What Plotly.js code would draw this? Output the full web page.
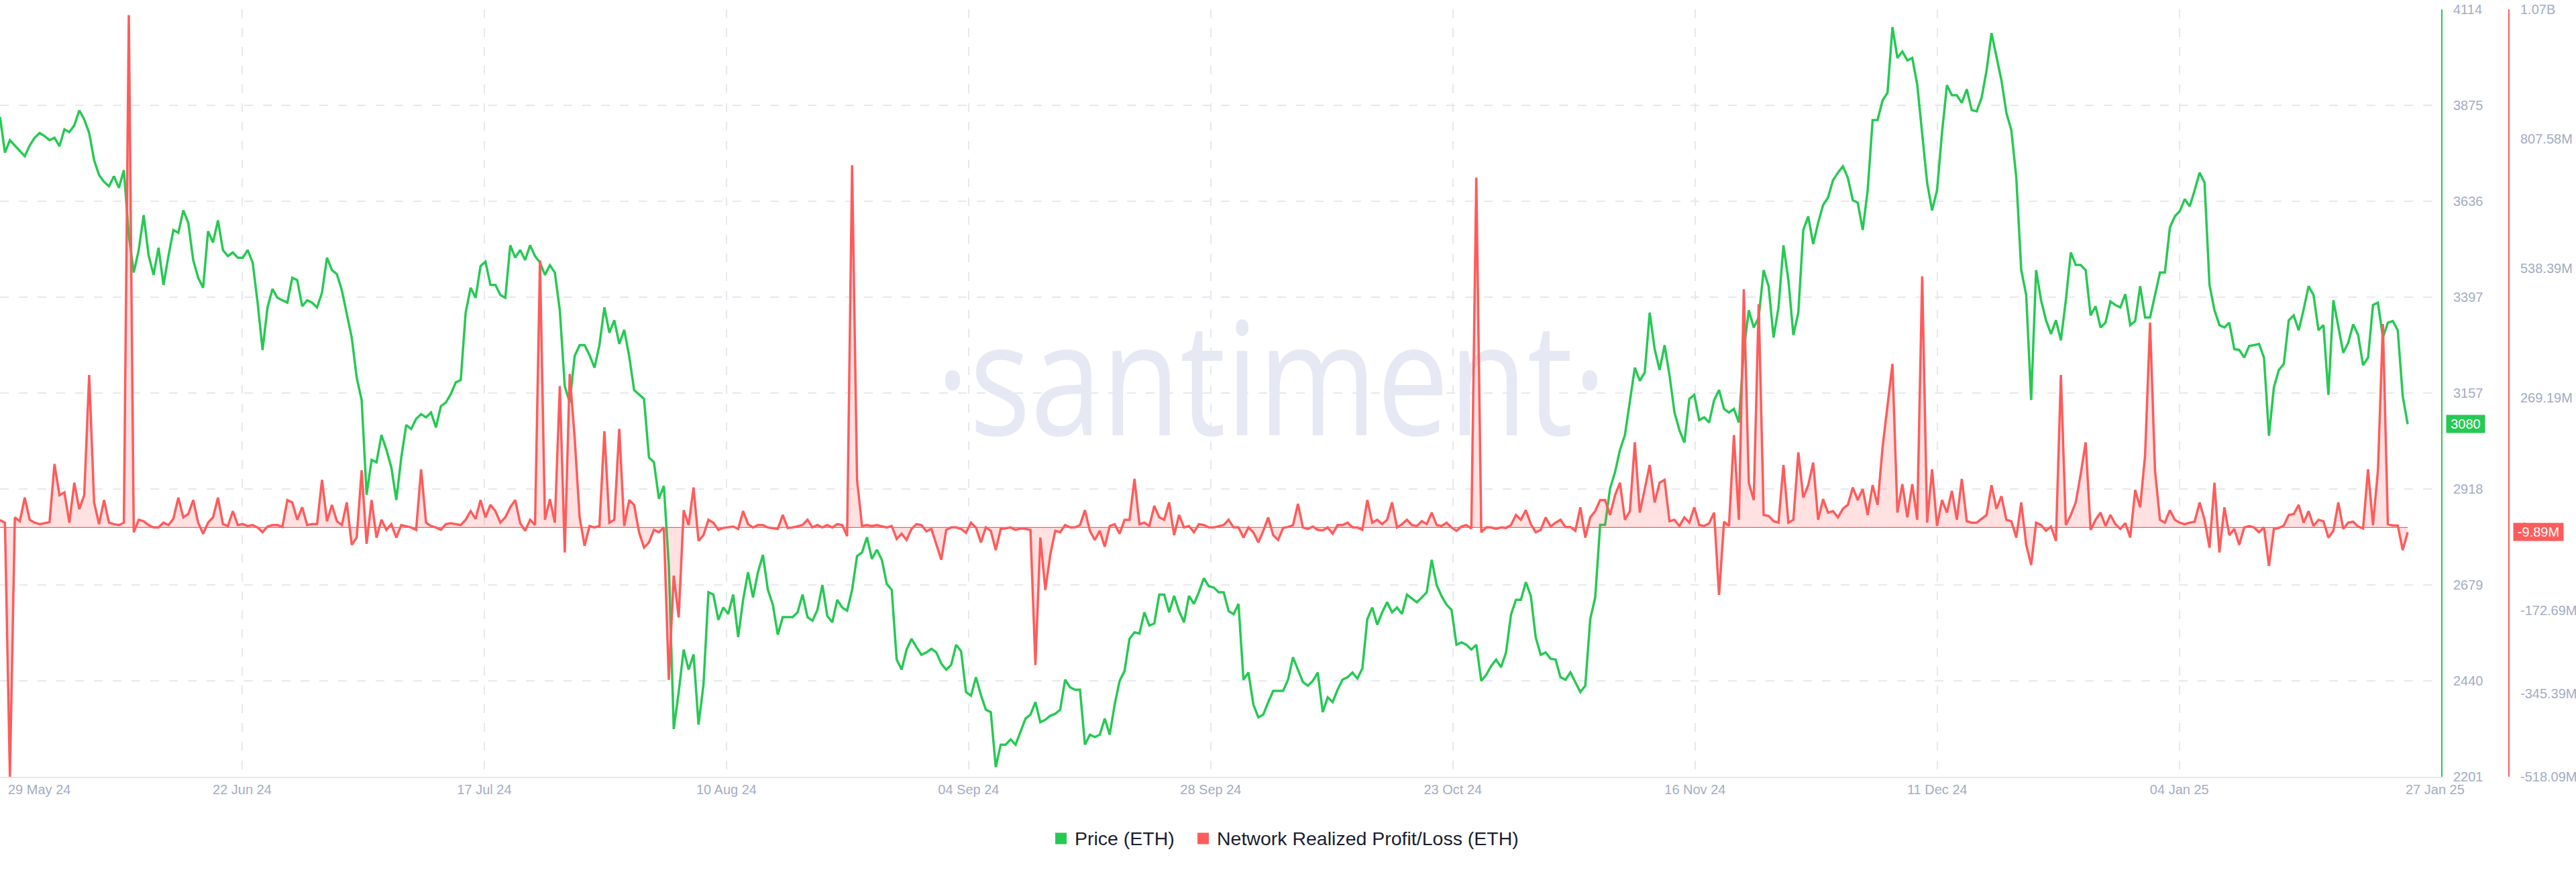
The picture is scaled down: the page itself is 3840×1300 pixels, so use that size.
<!DOCTYPE html>
<html><head><meta charset="utf-8">
<script src="https://cdn.plot.ly/plotly-3.0.1.min.js"></script>
<style>html,body{margin:0;padding:0;background:#fff;}#chart{width:3840px;height:1300px;}</style>
</head><body><div id="chart"></div>
<script>
// ---------------- data ----------------
const START = '2024-05-29T12:00:00Z';   // first sample
const STEP_HOURS = 12;                   // sampling step of both series

const PRICE = [
3846,3757,3788,3775,3763,3748,3775,3794,3806,3798,
3788,3794,3773,3815,3808,3825,3862,3840,3806,3738,
3701,3684,3673,3698,3669,3713,3551,3458,3514,3601,
3501,3452,3520,3427,3499,3564,3557,3613,3582,3489,
3445,3420,3561,3533,3588,3514,3499,3508,3495,3495,
3514,3483,3383,3265,3371,3417,3395,3389,3383,3445,
3439,3374,3389,3383,3371,3408,3495,3464,3454,3414,
3358,3296,3196,3140,2904,2991,2985,3053,3016,2972,
2891,2997,3078,3068,3093,3105,3097,3109,3072,3125,
3134,3155,3184,3190,3358,3420,3395,3474,3485,3427,
3427,3402,3395,3526,3495,3514,3489,3526,3499,3483,
3452,3476,3458,3364,3175,3134,3250,3277,3277,3252,
3221,3277,3371,3308,3339,3280,3315,3250,3165,3153,
3143,2997,2985,2894,2926,2729,2320,2412,2518,2468,
2506,2331,2430,2661,2655,2592,2623,2607,2655,2549,
2642,2711,2648,2711,2754,2667,2630,2555,2599,2599,
2599,2611,2655,2599,2590,2617,2679,2602,2586,2642,
2623,2615,2667,2751,2760,2798,2744,2767,2742,2682,
2667,2493,2468,2518,2545,2524,2505,2511,2520,2511,
2483,2468,2480,2530,2514,2412,2403,2449,2405,2368,
2362,2225,2281,2281,2294,2281,2313,2346,2356,2387,
2337,2343,2353,2358,2368,2443,2424,2418,2418,2281,
2306,2300,2306,2346,2306,2381,2440,2465,2545,2561,
2558,2611,2578,2583,2655,2655,2611,2652,2614,2586,
2652,2632,2661,2696,2676,2673,2661,2661,2614,2606,
2632,2443,2461,2381,2349,2356,2387,2415,2415,2415,
2443,2499,2468,2437,2428,2440,2461,2362,2399,2387,
2418,2443,2449,2461,2446,2471,2594,2623,2580,2611,
2636,2611,2623,2607,2655,2645,2636,2648,2661,2742,
2679,2651,2630,2617,2530,2536,2530,2518,2530,2440,
2455,2477,2493,2474,2511,2605,2642,2642,2686,2652,
2548,2505,2511,2495,2493,2449,2443,2461,2437,2412,
2428,2594,2648,2829,2829,2920,2960,3016,3053,3138,
3221,3188,3209,3358,3267,3215,3277,3202,3109,3065,
3034,3143,3153,3090,3097,3084,3140,3165,3118,3109,
3118,3084,3265,3364,3321,3346,3464,3424,3296,3371,
3526,3439,3302,3358,3564,3598,3529,3582,3626,3645,
3688,3707,3723,3694,3638,3632,3564,3663,3838,3838,
3887,3906,4070,3993,4009,3987,3993,3927,3800,3682,
3613,3663,3806,3925,3900,3900,3881,3915,3863,3860,
3894,3962,4055,3999,3937,3856,3813,3694,3464,3402,
3140,3464,3389,3339,3305,3339,3289,3389,3508,3477,
3477,3464,3351,3374,3321,3333,3386,3377,3371,3404,
3327,3337,3424,3346,3346,3402,3458,3458,3570,3598,
3611,3641,3623,3663,3707,3682,3427,3364,3327,3321,
3333,3267,3265,3246,3275,3277,3280,3246,3051,3172,
3215,3230,3339,3351,3314,3366,3424,3402,3314,3327,
3153,3389,3321,3258,3283,3329,3302,3227,3246,3377,
3383,3296,3333,3337,3314,3150,3080
];

// Network Realized Profit/Loss, in millions
const PNL_M = [
15.6,10,-518,21,13,62,16,10,7,9,
11,132,67,73,10,93,38,67,317,52,
7,57,10,7,5,10,1065,-10,16,13,
5,0,0,10,5,18,62,21,28,57,
10,-13,10,21,62,7,3,34,5,7,
3,5,0,-10,2,5,5,1,57,52,
16,42,5,7,7,99,13,47,13,5,
52,-36,-21,119,-34,57,-21,16,-5,7,
-21,5,3,0,-5,121,10,3,0,-5,
7,9,7,5,16,34,18,57,21,47,
34,10,21,42,57,9,-7,16,5,555,
16,59,10,294,-52,319,187,21,-38,3,
0,3,200,10,16,205,3,57,47,-10,
-42,-31,-5,-10,0,-317,-100,-187,36,5,
83,-28,-16,16,10,-5,-1,0,2,-3,
34,7,0,5,5,0,-1,-3,26,-1,
0,3,5,16,0,5,0,5,0,7,
5,-18,753,99,3,5,3,5,3,0,
3,-24,-13,-26,-3,7,5,-8,-3,-36,
-67,-5,0,0,-3,-11,10,0,-31,0,
-7,-47,-3,-2,0,-5,-2,-3,-5,-286,
-21,-130,-57,-7,-10,5,0,0,5,36,
-7,-26,-7,-40,3,7,-13,16,16,101,
7,10,3,45,21,16,52,-16,26,0,
3,-10,7,5,0,0,2,5,16,0,
0,-21,0,-10,-31,-7,21,-16,-26,-1,
1,5,49,0,-3,2,-5,-6,0,-13,
5,5,10,0,0,-5,57,10,16,7,
16,52,0,7,16,5,3,13,7,31,
5,3,10,0,-7,2,5,-2,727,-10,
0,0,-3,0,-1,5,26,16,36,7,
-10,-5,21,2,10,16,1,1,-7,42,
-21,21,34,57,57,26,67,93,16,34,
177,31,80,130,52,93,99,13,16,3,
21,10,42,5,3,9,31,-140,12,3,
192,16,495,93,57,464,26,24,13,10,
130,10,16,156,62,88,135,16,59,31,
34,21,39,47,83,57,80,26,88,47,
166,249,340,31,90,21,90,16,522,10,
121,3,57,31,76,16,101,13,10,10,
18,26,88,39,65,16,13,-21,52,-36,
-78,10,5,-7,2,-28,317,5,26,52,
111,177,-5,16,31,3,26,7,-3,9,
-21,78,42,151,426,119,16,10,36,16,
10,7,10,12,52,16,-42,93,-52,42,
-16,-3,-36,0,3,0,-10,0,-80,-3,
-1,4,26,28,47,10,34,3,16,13,
-21,-7,52,-3,10,12,2,-2,121,5,
119,423,7,4,4,-47,-9.89
];

const X_TICK_LABELS = ['29 May 24','22 Jun 24','17 Jul 24','10 Aug 24','04 Sep 24',
                       '28 Sep 24','23 Oct 24','16 Nov 24','11 Dec 24','04 Jan 25'];
const X_END_LABEL = '27 Jan 25';
const PRICE_TICKS = [2201,2440,2679,2918,3157,3397,3636,3875,4114];
const PNL_TICKS = [-518.09,-345.39,-172.69,0,269.19,538.39,807.58,1076.77];
const PNL_TICK_TEXT = ['-518.09M','-345.39M','-172.69M','0','269.19M','538.39M','807.58M','1.07B'];
const SERIES_NAMES = ['Price (ETH)','Network Realized Profit/Loss (ETH)'];
const WATERMARK = '\u00B7santiment\u00B7';

// ---------------- helpers ----------------
const DAY = 86400000;
const t0 = Date.parse(START);
const fmt = ms => new Date(ms).toISOString().slice(0,19).replace('T',' ');
const DATES = PRICE.map((_, k) => fmt(t0 + k*STEP_HOURS*3600000));

const GREEN = '#26c953', RED = '#ff5b5b', GRID = '#e6e8f1', TICK = '#a3acc4';
const FONT = 'Liberation Sans, Arial, sans-serif';
const W = 3840, H = 1300, MR = 100, MT = 14, MB = 142;
const PLOT_W = W - MR;                 // 3740
const PLOT_H = H - MT - MB;            // 1144
const X_DOM_END = 3639 / PLOT_W;
const RANGE_DAYS = 246.38;
const TICK_STEP_DAYS = 24.44;
const px2x = px => px / PLOT_W;
const px2y = py => (H - MB - py) / PLOT_H;

const tickVals = X_TICK_LABELS.map((_, i) => fmt(t0 + i*TICK_STEP_DAYS*DAY));
const tickText = X_TICK_LABELS.map((s, i) => i === 0 ? '' : s);

const lastP = PRICE[PRICE.length-1], lastN = PNL_M[PNL_M.length-1];

const data = [
  {x: DATES, y: PRICE, type: 'scatter', mode: 'lines', yaxis: 'y',
   line: {color: GREEN, width: 3.5}, showlegend: false, hoverinfo: 'skip'},
  {x: [DATES[0], DATES[DATES.length-1]], y: [0, 0], type: 'scatter', mode: 'lines', yaxis: 'y2',
   line: {color: RED, width: 1.2}, showlegend: false, hoverinfo: 'skip'},
  {x: DATES, y: PNL_M, type: 'scatter', mode: 'lines', yaxis: 'y2', fill: 'tozeroy',
   fillcolor: 'rgba(255,91,91,0.18)', line: {color: RED, width: 3.5}, showlegend: false, hoverinfo: 'skip'}
];

const tickFont = {family: FONT, size: 20, color: TICK};
const legendFont = {family: FONT, size: 28.5, color: '#1a1e30'};

// legend: colour squares + names (pixel boxes in page coordinates)
const LEG = [{sq: [1573, 1590], tx: 1601, color: GREEN},
             {sq: [1785, 1802], tx: 1813, color: RED}];
const LEG_Y = 1250, LEG_HALF = 8.5;

const layout = {
  width: W, height: H,
  margin: {l: 0, r: MR, t: MT, b: MB, pad: 0},
  paper_bgcolor: '#ffffff', plot_bgcolor: '#ffffff',
  hovermode: false,
  showlegend: false,
  xaxis: {type: 'date', domain: [0, X_DOM_END],
          range: [fmt(t0), fmt(t0 + RANGE_DAYS*DAY)],
          tickmode: 'array', tickvals: tickVals, ticktext: tickText,
          showgrid: true, gridcolor: GRID, gridwidth: 2, griddash: '13px,15px',
          showline: true, linecolor: '#e3e7ef', linewidth: 2, ticks: '',
          tickfont: tickFont, zeroline: false, fixedrange: true},
  yaxis: {range: [2201, 4114], side: 'right', anchor: 'x',
          tickmode: 'array', tickvals: PRICE_TICKS, ticktext: PRICE_TICKS.map(String),
          showgrid: true, gridcolor: GRID, gridwidth: 2, griddash: '13px,15px',
          showline: true, linecolor: GREEN, linewidth: 2, ticks: '',
          tickfont: tickFont, zeroline: false, ticklabelstandoff: 12, fixedrange: true},
  yaxis2: {range: [-518.09, 1076.77], overlaying: 'y', side: 'right', anchor: 'free', position: 1,
           tickmode: 'array', tickvals: PNL_TICKS, ticktext: PNL_TICK_TEXT,
           showgrid: false, showline: true, linecolor: RED, linewidth: 2, ticks: '',
           tickfont: tickFont, zeroline: false, ticklabelstandoff: 12, fixedrange: true},
  shapes: [
    {type: 'rect', xref: 'paper', yref: 'paper', x0: 0, x1: X_DOM_END, y0: 0, y1: 1,
     line: {width: 0}, fillcolor: 'rgba(0,0,0,0)', layer: 'below',
     label: {text: WATERMARK, textposition: 'middle center',
             font: {family: 'Open Sans', size: 235, color: '#e6e9f3'}}}
  ].concat(LEG.map(l => ({
     type: 'rect', xref: 'paper', yref: 'paper',
     x0: px2x(l.sq[0]), x1: px2x(l.sq[1]),
     y0: px2y(LEG_Y + LEG_HALF), y1: px2y(LEG_Y - LEG_HALF),
     line: {width: 0}, fillcolor: l.color, layer: 'above'}))),
  annotations: [
    {xref: 'paper', yref: 'paper', x: px2x(10), y: 0, xanchor: 'left', yanchor: 'top', yshift: -6,
     text: X_TICK_LABELS[0], showarrow: false, font: tickFont},
    {xref: 'paper', yref: 'paper', x: px2x(3630), y: 0, xanchor: 'center', yanchor: 'top', yshift: -6,
     text: X_END_LABEL, showarrow: false, font: tickFont},
    {xref: 'paper', yref: 'y', x: px2x(3646), y: lastP, xanchor: 'left', yanchor: 'middle',
     text: String(Math.round(lastP)), showarrow: false, bgcolor: GREEN, width: 57, height: 26,
     borderpad: 0, font: {family: FONT, size: 20, color: '#ffffff'}},
    {xref: 'paper', yref: 'y2', x: px2x(3746), y: lastN, xanchor: 'left', yanchor: 'middle',
     text: lastN.toFixed(2) + 'M', showarrow: false, bgcolor: RED, width: 74, height: 26,
     borderpad: 0, font: {family: FONT, size: 20, color: '#ffffff'}}
  ].concat(LEG.map((l, i) => ({
     xref: 'paper', yref: 'paper', x: px2x(l.tx), y: px2y(LEG_Y), xanchor: 'left', yanchor: 'middle',
     text: SERIES_NAMES[i], showarrow: false, borderpad: 0, font: legendFont})))
};

Plotly.newPlot('chart', data, layout, {staticPlot: true, displayModeBar: false}).then(gd => {
  // squeeze the watermark horizontally to match the logo proportions
  const TARGET_W = 1000, TARGET_CX = 1895, DY = -12;
  gd.querySelectorAll('text').forEach(t => {
    if (t.textContent === WATERMARK) {
      const bb = t.getBBox();
      const r = t.getBoundingClientRect();
      const s = TARGET_W / bb.width;
      const cx = bb.x + bb.width/2;
      const dx = TARGET_CX - (r.left + r.width/2);
      const prev = t.getAttribute('transform') || '';
      t.setAttribute('transform', `translate(${dx},${DY}) translate(${cx},0) scale(${s},1) translate(${-cx},0) ${prev}`);
    }
  });
});
</script>
</body></html>
